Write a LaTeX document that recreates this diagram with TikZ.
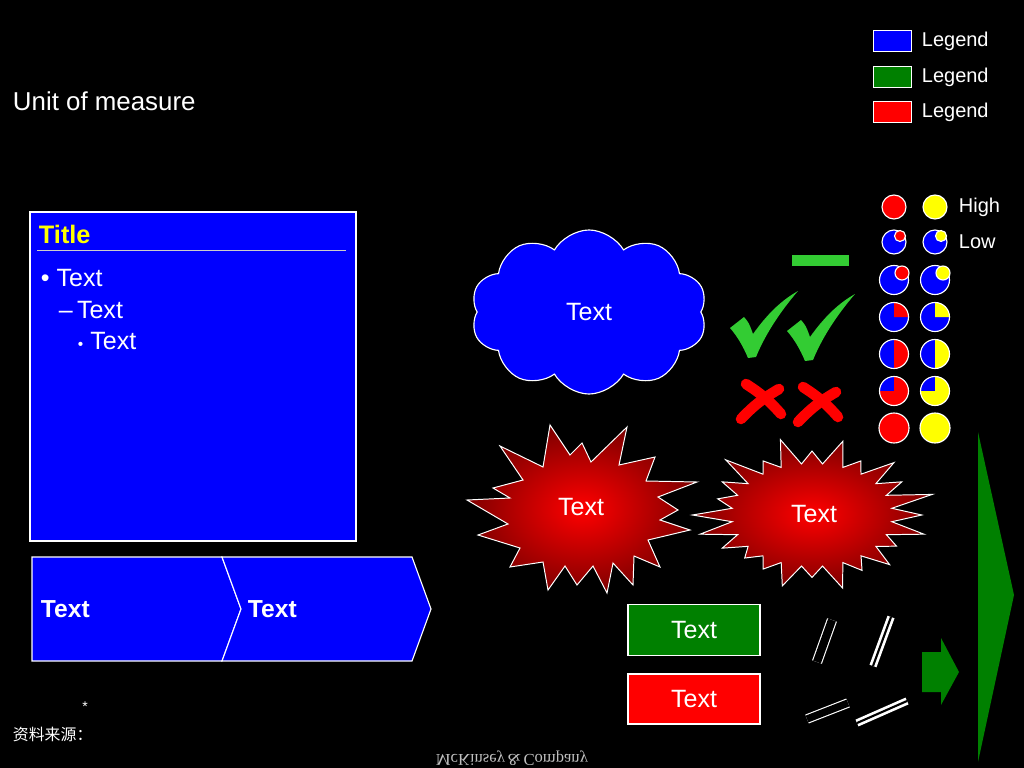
\documentclass[tikz,border=0pt]{standalone}
\usepackage{fontspec}
\setmainfont{Liberation Sans}
\newfontfamily\cjkfont{Noto Sans CJK SC}
\newfontfamily\logofont{Liberation Serif}
\usetikzlibrary{shapes.symbols}

\definecolor{slideblue}{RGB}{0,0,255}
\definecolor{slidegreen}{RGB}{0,128,0}
\definecolor{checkgreen}{RGB}{51,204,51}
\definecolor{slidered}{RGB}{255,0,0}
\definecolor{slideyellow}{RGB}{255,255,0}

\tikzset{
  outl/.style={draw=white, line width=0.8pt},
  body/.style={text=white, font=\fontsize{17.8}{21}\selectfont},
  bodyb/.style={text=white, font=\fontsize{17.5}{21}\selectfont\bfseries},
  small/.style={text=white, font=\fontsize{14.2}{17}\selectfont},
  crossline/.style={slidered, line width=7.5pt, line cap=round},
  burst/.style={draw=white, line width=0.7pt, inner color=slidered, outer color=slidered!50!black},
}

\begin{document}
\begin{tikzpicture}[x=0.025cm, y=-0.025cm]
    % background, fixes the page
    \fill[black] (0,0) rectangle (1024,768);
    \useasboundingbox (0,0) rectangle (1024,768);

    \node[anchor=west, text=white, font=\fontsize{18.4}{22}\selectfont] (unit) at (8,101) {Unit of measure};

    % legend
    \foreach \c/\y [count=\i] in {slideblue/41, slidegreen/77, slidered/112} {
        \draw[outl, line width=0.6pt, fill=\c] (873,\y-10.5) rectangle (911,\y+10.5);
        \node[small, anchor=west] (leg\i) at (917,\y) {Legend};
    }

    % text box
    \draw[outl, fill=slideblue] (30,212) rectangle (356,541);
    \node[anchor=west, text=slideyellow, font=\fontsize{18}{22}\selectfont\bfseries] (title) at (34,234) {Title};
    \draw[white!80!black, line width=0.6pt] (37,250) -- (346,250);
    \node[body, anchor=west] (lvla) at (36,278) {\textbullet\ Text};
    \node[body, anchor=west] (lvlb) at (54,310) {\textendash\,Text};
    \node[body, anchor=west] (lvlc) at (73,341) {{\fontsize{11}{12}\selectfont\textbullet}\ Text};

    % chevrons
    \draw[outl, fill=slideblue] (32,557) -- (222,557) -- (241,609) -- (222,661) -- (32,661) -- cycle;
    \draw[outl, fill=slideblue] (222,557) -- (412,557) -- (431,609) -- (412,661) -- (222,661) -- (241,609) -- cycle;
    \node[bodyb, anchor=west] (stepa) at (36,609) {Text};
    \node[bodyb, anchor=west] (stepb) at (243,609) {Text};

    % cloud
    \node[cloud, cloud puffs=10, cloud puff arc=120, aspect=1.45, outl, fill=slideblue,
          minimum width=5.9cm, minimum height=4.1cm, body] (cloud) at (589,312) {Text};

    % starbursts
    \shade[burst] (550,425) -- (570,455) -- (582,443) -- (591,462) -- (627,427) -- (619,465)
        -- (655,457) -- (646,481) -- (697,482) -- (658,497) -- (678,510) -- (660,520)
        -- (690,530) -- (648,540) -- (660,567) -- (634,556) -- (633,585) -- (613,563)
        -- (607,593) -- (593,566) -- (577,585) -- (565,566) -- (548,590) -- (543,562)
        -- (510,567) -- (520,548) -- (478,535) -- (508,524) -- (467,500) -- (510,498)
        -- (493,488) -- (523,480) -- (500,446) -- (543,467) -- cycle;
    \node[body] (bursta) at (581,507) {Text};
    \shade[burst] ({812+122*0.66*cos(-7.5)},{515+78*0.66*sin(-7.5)})
        \foreach \a/\r in {0/0.9, 15/0.95, 30/0.8, 45/0.9, 60/0.82, 75/0.97, 90/0.8, 105/0.94,
                           120/0.8, 135/0.78, 150/0.85, 165/0.95, 180/0.98, 195/0.8, 210/0.85,
                           225/1.0, 240/0.8, 255/1.0, 270/0.82, 285/0.98, 300/0.8, 315/0.95,
                           330/0.85, 345/1.02} {
            -- ({812+122*\r*cos(\a)},{515+78*\r*sin(\a)})
            -- ({812+122*0.66*cos(\a+7.5)},{515+78*0.66*sin(\a+7.5)})
        } -- cycle;
    \node[body] (burstb) at (814,514) {Text};

    % check marks, dash and crosses
    \fill[checkgreen] (792,255) rectangle (849,266);
    \foreach \dx/\dy in {0/0, 57/3} {
        \fill[checkgreen, shift={(\dx,\dy)}] (730,328) -- (744,317) .. controls (749,323) .. (753,334)
            .. controls (768,313) and (782,300) .. (798,291)
            .. controls (785,306) and (767,330) .. (756,357) -- (748,358)
            .. controls (743,346) and (737,336) .. cycle;
        \draw[crossline, shift={(\dx,\dy)}] (746,384) to[bend left=8] (781,414);
        \draw[crossline, shift={(\dx,\dy)}] (779,389) to[bend right=8] (741,419);
    }

    % harvey balls
    \foreach \x/\c in {894/slidered, 935/slideyellow} {
        \draw[outl, fill=\c] (\x,207) circle (12);
        \draw[outl, fill=slideblue] (\x,242) circle (12);
        \draw[outl, fill=\c] (\x+6,236) circle (5.5);
        \draw[outl, fill=slideblue] (\x,280) circle (14.5);
        \draw[outl, fill=\c] (\x+8,273) circle (7);
        \fill[slideblue] (\x,317) circle (14.5);
        \fill[\c] (\x,317) -- (\x,317-14.5) arc[start angle=-90, end angle=0, radius=14.5] -- cycle;
        \draw[outl] (\x,317) circle (14.5);
        \fill[slideblue] (\x,354) circle (14.5);
        \fill[\c] (\x,354) -- (\x,354-14.5) arc[start angle=-90, end angle=90, radius=14.5] -- cycle;
        \draw[outl] (\x,354) circle (14.5);
        \fill[slideblue] (\x,391) circle (14.5);
        \fill[\c] (\x,391) -- (\x,391-14.5) arc[start angle=-90, end angle=180, radius=14.5] -- cycle;
        \draw[outl] (\x,391) circle (14.5);
        \draw[outl, fill=\c] (\x,428) circle (15);
    }
    \node[small, anchor=west] (high) at (954,207) {High};
    \node[small, anchor=west] (low) at (954,242) {Low};

    % text boxes
    \node[outl, fill=slidegreen, minimum width=3.3cm, minimum height=1.27cm, body] (gbox) at (694,630) {Text};
    \node[outl, fill=slidered, minimum width=3.3cm, minimum height=1.25cm, body] (rbox) at (694,699) {Text};

    % parallel lines
    \draw[white, double=black, line width=0.8pt, double distance=5.8pt] (832,620) -- (817,662);
    \draw[white, double=black, line width=1.9pt, double distance=1.5pt] (891,617) -- (873,666);
    \draw[white, double=black, line width=0.8pt, double distance=5.2pt] (807,719) -- (848,703);
    \draw[white, double=black, line width=1.9pt, double distance=1.5pt] (857,723) -- (907,701);

    % arrows
    \fill[slidegreen] (978,432) -- (1014,595) -- (978,762) -- cycle;
    \fill[slidegreen] (922,652) -- (941,652) -- (941,638) -- (959,672) -- (941,705) -- (941,692) -- (922,692) -- cycle;

    % footer
    \node[text=white, font=\fontsize{10}{11}\selectfont] (star) at (85,707) {*};
    \node[anchor=west, text=white, font=\cjkfont\fontsize{11.3}{13}\selectfont] (source) at (8,734) {资料来源：};
    \node[yscale=-1, text=white!75!black, font=\logofont\fontsize{11.8}{14}\selectfont] (logo) at (512,758) {McKinsey\,\&\,Company};
\end{tikzpicture}
\end{document}
